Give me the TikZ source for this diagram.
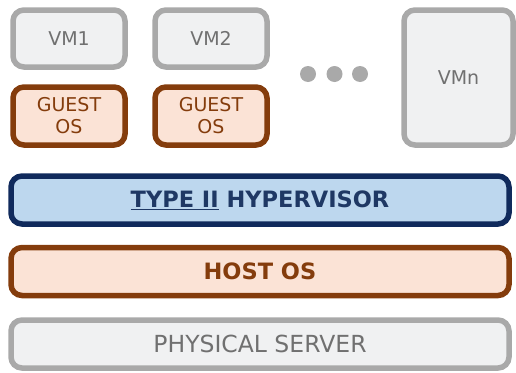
\documentclass[tikz,border=0pt]{standalone}
\usepackage{fontspec}
\setmainfont{DejaVu Sans}
\usepackage{tikz}
\usetikzlibrary{positioning}

\definecolor{vmline}{HTML}{A9A9A9}
\definecolor{vmfill}{HTML}{F0F1F2}
\definecolor{vmtext}{HTML}{707070}
\definecolor{osline}{HTML}{843C0C}
\definecolor{osfill}{HTML}{FBE3D6}
\definecolor{ostext}{HTML}{843C0C}
\definecolor{hvline}{HTML}{102A5C}
\definecolor{hvfill}{HTML}{BDD7EE}
\definecolor{hvtext}{HTML}{1F3864}

\begin{document}
\begin{tikzpicture}[x=1pt, y=-1pt,
  box/.style={draw, line width=5.5pt, rounded corners=11pt, align=center, inner sep=0pt},
  vm/.style={box, draw=vmline, fill=vmfill, text=vmtext, minimum width=112pt, minimum height=57pt, font=\fontsize{19}{22}\selectfont},
  guest/.style={box, draw=osline, fill=osfill, text=ostext, minimum width=112pt, minimum height=58pt, font=\fontsize{19}{22}\selectfont},
  layer/.style={box, minimum width=498pt, minimum height=48pt, font=\fontsize{23.5}{27}\selectfont},
  dot/.style={circle, fill=vmline, minimum size=16pt, inner sep=0pt}
]
\useasboundingbox (0,0) rectangle (516,372);
% virtual machines
\node[vm] (vm1) at (69,38.5) {VM1};
\node[guest] (g1) at (69,116) {GUEST\\OS};
\node[vm] (vm2) at (211,38.5) {VM2};
\node[guest] (g2) at (211,116) {GUEST\\OS};
\node[dot] (d1) at (308,74) {};
\node[dot] (d2) at (334.5,74) {};
\node[dot] (d3) at (360,74) {};
\node[vm, minimum width=109pt, minimum height=135pt] (vmn) at (458.5,77.5) {VMn};
% layers
\node[layer, draw=hvline, fill=hvfill, text=hvtext, font=\fontsize{22.5}{26}\selectfont\bfseries] (hyp) at (260,200) {\underline{TYPE II} HYPERVISOR};
\node[layer, draw=osline, fill=osfill, text=ostext, font=\fontsize{22.5}{26}\selectfont\bfseries] (host) at (260,271.5) {HOST OS};
\node[layer, draw=vmline, fill=vmfill, text=vmtext] (phys) at (260,344) {PHYSICAL SERVER};
\end{tikzpicture}
\end{document}
